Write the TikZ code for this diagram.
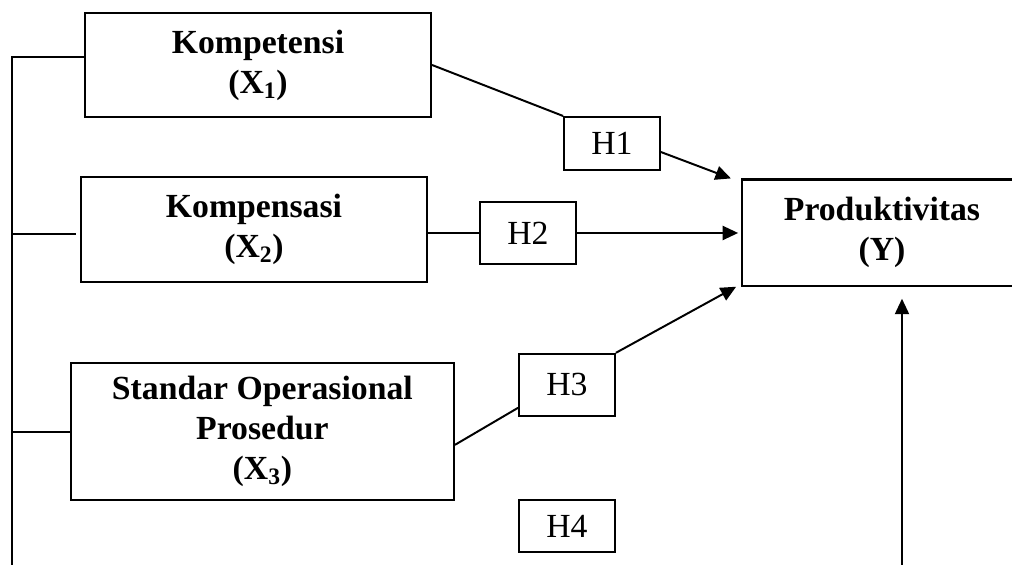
\documentclass[tikz,border=0pt]{standalone}
\usepackage{fontspec}
\setmainfont{Liberation Serif}
\usepackage{tikz}
\usetikzlibrary{arrows.meta}
\tikzstyle{block} = [rectangle, draw, line width=1.5pt, align=center,
                 inner sep=0pt, font=\bfseries\fontsize{24}{28.5}\selectfont]
\tikzstyle{hyp} = [rectangle, draw, line width=1.3pt, inner sep=0pt,
                 minimum width=2.4cm, font=\fontsize{24}{28.5}\selectfont]
\tikzstyle{branch} = [line width=1.4pt, draw]
\tikzstyle{effect} = [branch, -{Triangle[length=11pt,width=10pt]}]

\begin{document}
\begin{tikzpicture}

\useasboundingbox (0,0) rectangle (25.3,14.125);

\node [block, minimum width=8.65cm, minimum height=2.6cm] at (6.45,12.5) (kmp) {Kompetensi\\(X\textsubscript{1})};
\node [block, minimum width=8.65cm, minimum height=2.625cm] at (6.35,8.39) (kms) {Kompensasi\\(X\textsubscript{2})};
\node [block, minimum width=9.575cm, minimum height=3.425cm] at (6.56,3.34) (sop) {Standar Operasional\\Prosedur\\(X\textsubscript{3})};
\node [block, minimum width=7cm, minimum height=2.655cm] at (22.05,8.31) (prod) {Produktivitas\\(Y)};

\node [hyp, minimum height=1.325cm] at (15.3,10.54) (h1) {H1};
\node [hyp, minimum height=1.55cm] at (13.2,8.3) (h2) {H2};
\node [hyp, minimum height=1.5625cm] at (14.175,4.5) (h3) {H3};
\node [hyp, minimum height=1.3cm] at (14.175,0.975) (h4) {H4};

% left bracket
\coordinate (lt) at (0.31,12.7);
\coordinate (lb) at (0.31,0);
\path [branch] (kmp.west |- lt) -- (lt) -- (lb);
\path [branch] ([xshift=-3pt]kms.west |- 0,8.275) -- (lt |- 0,8.275);
\path [branch] (sop.west |- 0,3.325) -- (lt |- 0,3.325);

\path [branch] (kmp.east) -- (h1.north west);
\path [effect] (h1.-10) -- ([xshift=-0.25cm]prod.north west);
\path [branch] (kms.east |- h2.west) -- (h2.west);
\path [effect] (h2.east) -- ([xshift=-2pt]prod.west |- h2.east);
\path [branch] (sop.-4) -- (h3.205);
\path [effect] (h3.north east) -- ([xshift=-0.12cm]prod.south west);

\coordinate (yb) at (22.55,0);
\path [effect, shorten >=0.3cm] (yb) -- (yb |- prod.south);

\end{tikzpicture}
\end{document}
